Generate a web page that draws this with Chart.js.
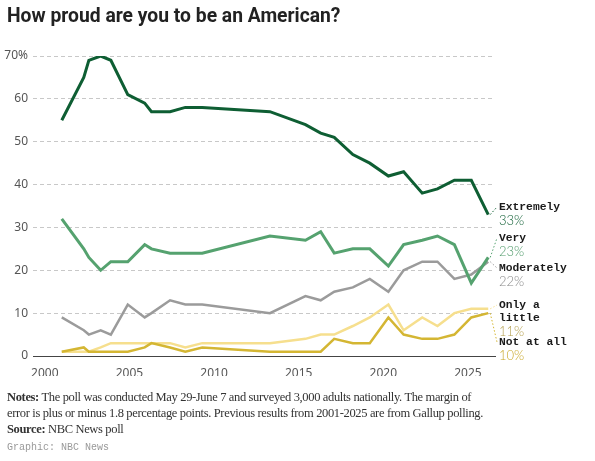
<!DOCTYPE html>
<html>
<head>
<meta charset="utf-8">
<script src="https://cdn.jsdelivr.net/npm/chart.js@4/dist/chart.umd.min.js"></script>
<style>
  body { margin: 0; width: 595px; height: 461px; background: #fff; overflow: hidden; position: relative; }
  #chartBox { position: absolute; left: 0; top: 0; width: 595px; height: 461px; }
  #title { position: absolute; left: 7px; top: 4px; font: 700 19.3px Roboto, sans-serif; color: #222; letter-spacing: 0; white-space: nowrap; }
  .lbl { position: absolute; left: 499px; white-space: nowrap; }
  .lbl .name { font: 700 11.3px "Liberation Mono", monospace; color: #1a1a1a; line-height: 13px; }
  .lbl .pct { font: 300 13px Lato, sans-serif; line-height: 13px; }
  #notes { position: absolute; left: 7px; top: 389px; font: 12.5px "Liberation Serif", serif; color: #333; line-height: 16px; letter-spacing: -0.35px; white-space: nowrap; }
  #credit { position: absolute; left: 7px; top: 442px; font: 10px "Liberation Mono", monospace; color: #999; }
</style>
</head>
<body>
<div id="chartBox"><canvas id="prideLine"></canvas></div>
<div id="title">How proud are you to be an American?</div>
<div id="notes"><b>Notes:</b> The poll was conducted May 29-June 7 and surveyed 3,000 adults nationally. The margin of<br>error is plus or minus 1.8 percentage points. Previous results from 2001-2025 are from Gallup polling.<br><b>Source:</b> NBC News poll</div>
<div id="credit">Graphic: NBC News</div>
<script>
// poll dates (fractional years)
const pollYears = [2001, 2002.3, 2002.6, 2003.3, 2003.9, 2004.9, 2005.9, 2006.3, 2007.4, 2008.3, 2009.3, 2013.3,
  2015.4, 2016.3, 2017.1, 2018.2, 2019.2, 2020.3, 2021.2, 2022.3, 2023.2, 2024.2, 2025.2, 2026.2];

// percent of adults, one array per answer
const dataExtremely = [55, 65, 69, 70, 69, 61, 59, 57, 57, 58, 58, 57, 54, 52, 51, 47, 45, 42, 43, 38, 39, 41, 41, 33];
const dataVery = [32, 25, 23, 20, 22, 22, 26, 25, 24, 24, 24, 28, 27, 29, 24, 25, 25, 21, 26, 27, 28, 26, 17, 23];
const dataModerately = [9, 6, 5, 6, 5, 12, 9, 10, 13, 12, 12, 10, 14, 13, 15, 16, 18, 15, 20, 22, 22, 18, 19, 22];
const dataOnlyLittle = [1, 1, 1, 2, 3, 3, 3, 3, 3, 2, 3, 3, 4, 5, 5, 7, 9, 12, 6, 9, 7, 10, 11, 11];
const dataNotAtAll = [1, 2, 1, 1, 1, 1, 2, 3, 2, 1, 2, 1, 1, 1, 4, 3, 3, 9, 5, 4, 4, 5, 9, 10];

const seriesNames = [["Extremely"], ["Very"], ["Moderately"], ["Only a", "little"], ["Not at all"]];
const xTicks = [2000, 2005, 2010, 2015, 2020, 2025];
const yTicks = [0, 10, 20, 30, 40, 50, 60, 70];

// styling
const lineColors = ["#0e5e33", "#55a26f", "#9b9b9b", "#f6df8e", "#d4b633"];
const pctColors = ["#0e5e33", "#4f9a69", "#8a8a8a", "#b5a050", "#c9a82a"];
const lineWidths = [3, 3, 2.5, 2.5, 2.5];
const labelCenters = [207, 238, 268, 305, 342]; // y of first name line

const allData = [dataExtremely, dataVery, dataModerately, dataOnlyLittle, dataNotAtAll];

// draw order: light yellow at the back, extremely on top
const drawOrder = [1, 2, 3, 5, 4];

const datasets = allData.map(function (vals, i) {
  return {
    label: seriesNames[i].join(" "),
    data: pollYears.map(function (yr, j) { return { x: yr, y: vals[j] }; }),
    borderColor: lineColors[i],
    borderWidth: lineWidths[i],
    pointRadius: 0,
    tension: 0,
    fill: false,
    order: drawOrder[i]
  };
});

// dotted leader lines from each line end to its label
const leaderPlugin = {
  id: "leaders",
  afterDatasetsDraw(chart) {
    const ctx = chart.ctx;
    const xs = chart.scales.x, ys = chart.scales.y;
    const last = pollYears.length - 1;
    ctx.save();
    ctx.setLineDash([1.5, 2]);
    ctx.lineWidth = 1;
    allData.forEach(function (vals, i) {
      const px = xs.getPixelForValue(pollYears[last]);
      const py = ys.getPixelForValue(vals[last]);
      ctx.strokeStyle = lineColors[i];
      ctx.beginPath();
      ctx.moveTo(px + 2, py);
      ctx.lineTo(497, labelCenters[i]);
      ctx.stroke();
    });
    ctx.restore();
  }
};

new Chart(document.getElementById("prideLine"), {
  type: "line",
  data: { datasets: datasets },
  options: {
    responsive: true,
    maintainAspectRatio: false,
    animation: false,
    layout: { padding: { left: 0, right: 100, top: 56, bottom: 85 } },
    plugins: { legend: { display: false }, tooltip: { enabled: false } },
    scales: {
      x: {
        type: "linear",
        min: 1999.3,
        max: 2026.6,
        afterBuildTicks: function (s) { s.ticks = xTicks.map(function (v) { return { value: v }; }); },
        afterFit: function (s) { s.height = 20; },
        grid: { display: false },
        border: { display: true, color: "#444", width: 1 },
        ticks: {
          padding: 2,
          maxRotation: 0,
          color: "#555",
          font: { family: "Noto Sans", size: 12 },
          callback: function (v) { return String(v); }
        }
      },
      y: {
        min: 0,
        max: 70,
        afterBuildTicks: function (s) { s.ticks = yTicks.map(function (v) { return { value: v }; }); },
        afterFit: function (s) { s.width = 33; },
        grid: { color: "#c8c8c8", lineWidth: 1, drawTicks: false },
        border: { display: false, dash: [4, 3] },
        ticks: {
          padding: 5,
          color: "#555",
          font: { family: "Noto Sans", size: 12 },
          callback: function (v) { return v === 70 ? v + "%" : String(v); }
        }
      }
    }
  },
  plugins: [leaderPlugin]
});

// end labels as html text
allData.forEach(function (vals, i) {
  const box = document.createElement("div");
  box.className = "lbl";
  box.style.top = (labelCenters[i] - 6.5) + "px";
  box.innerHTML = seriesNames[i].map(function (n) { return '<div class="name">' + n + "</div>"; }).join("") +
    '<div class="pct" style="color:' + pctColors[i] + '">' + vals[vals.length - 1] + "%</div>";
  document.body.appendChild(box);
});
</script>
</body>
</html>
